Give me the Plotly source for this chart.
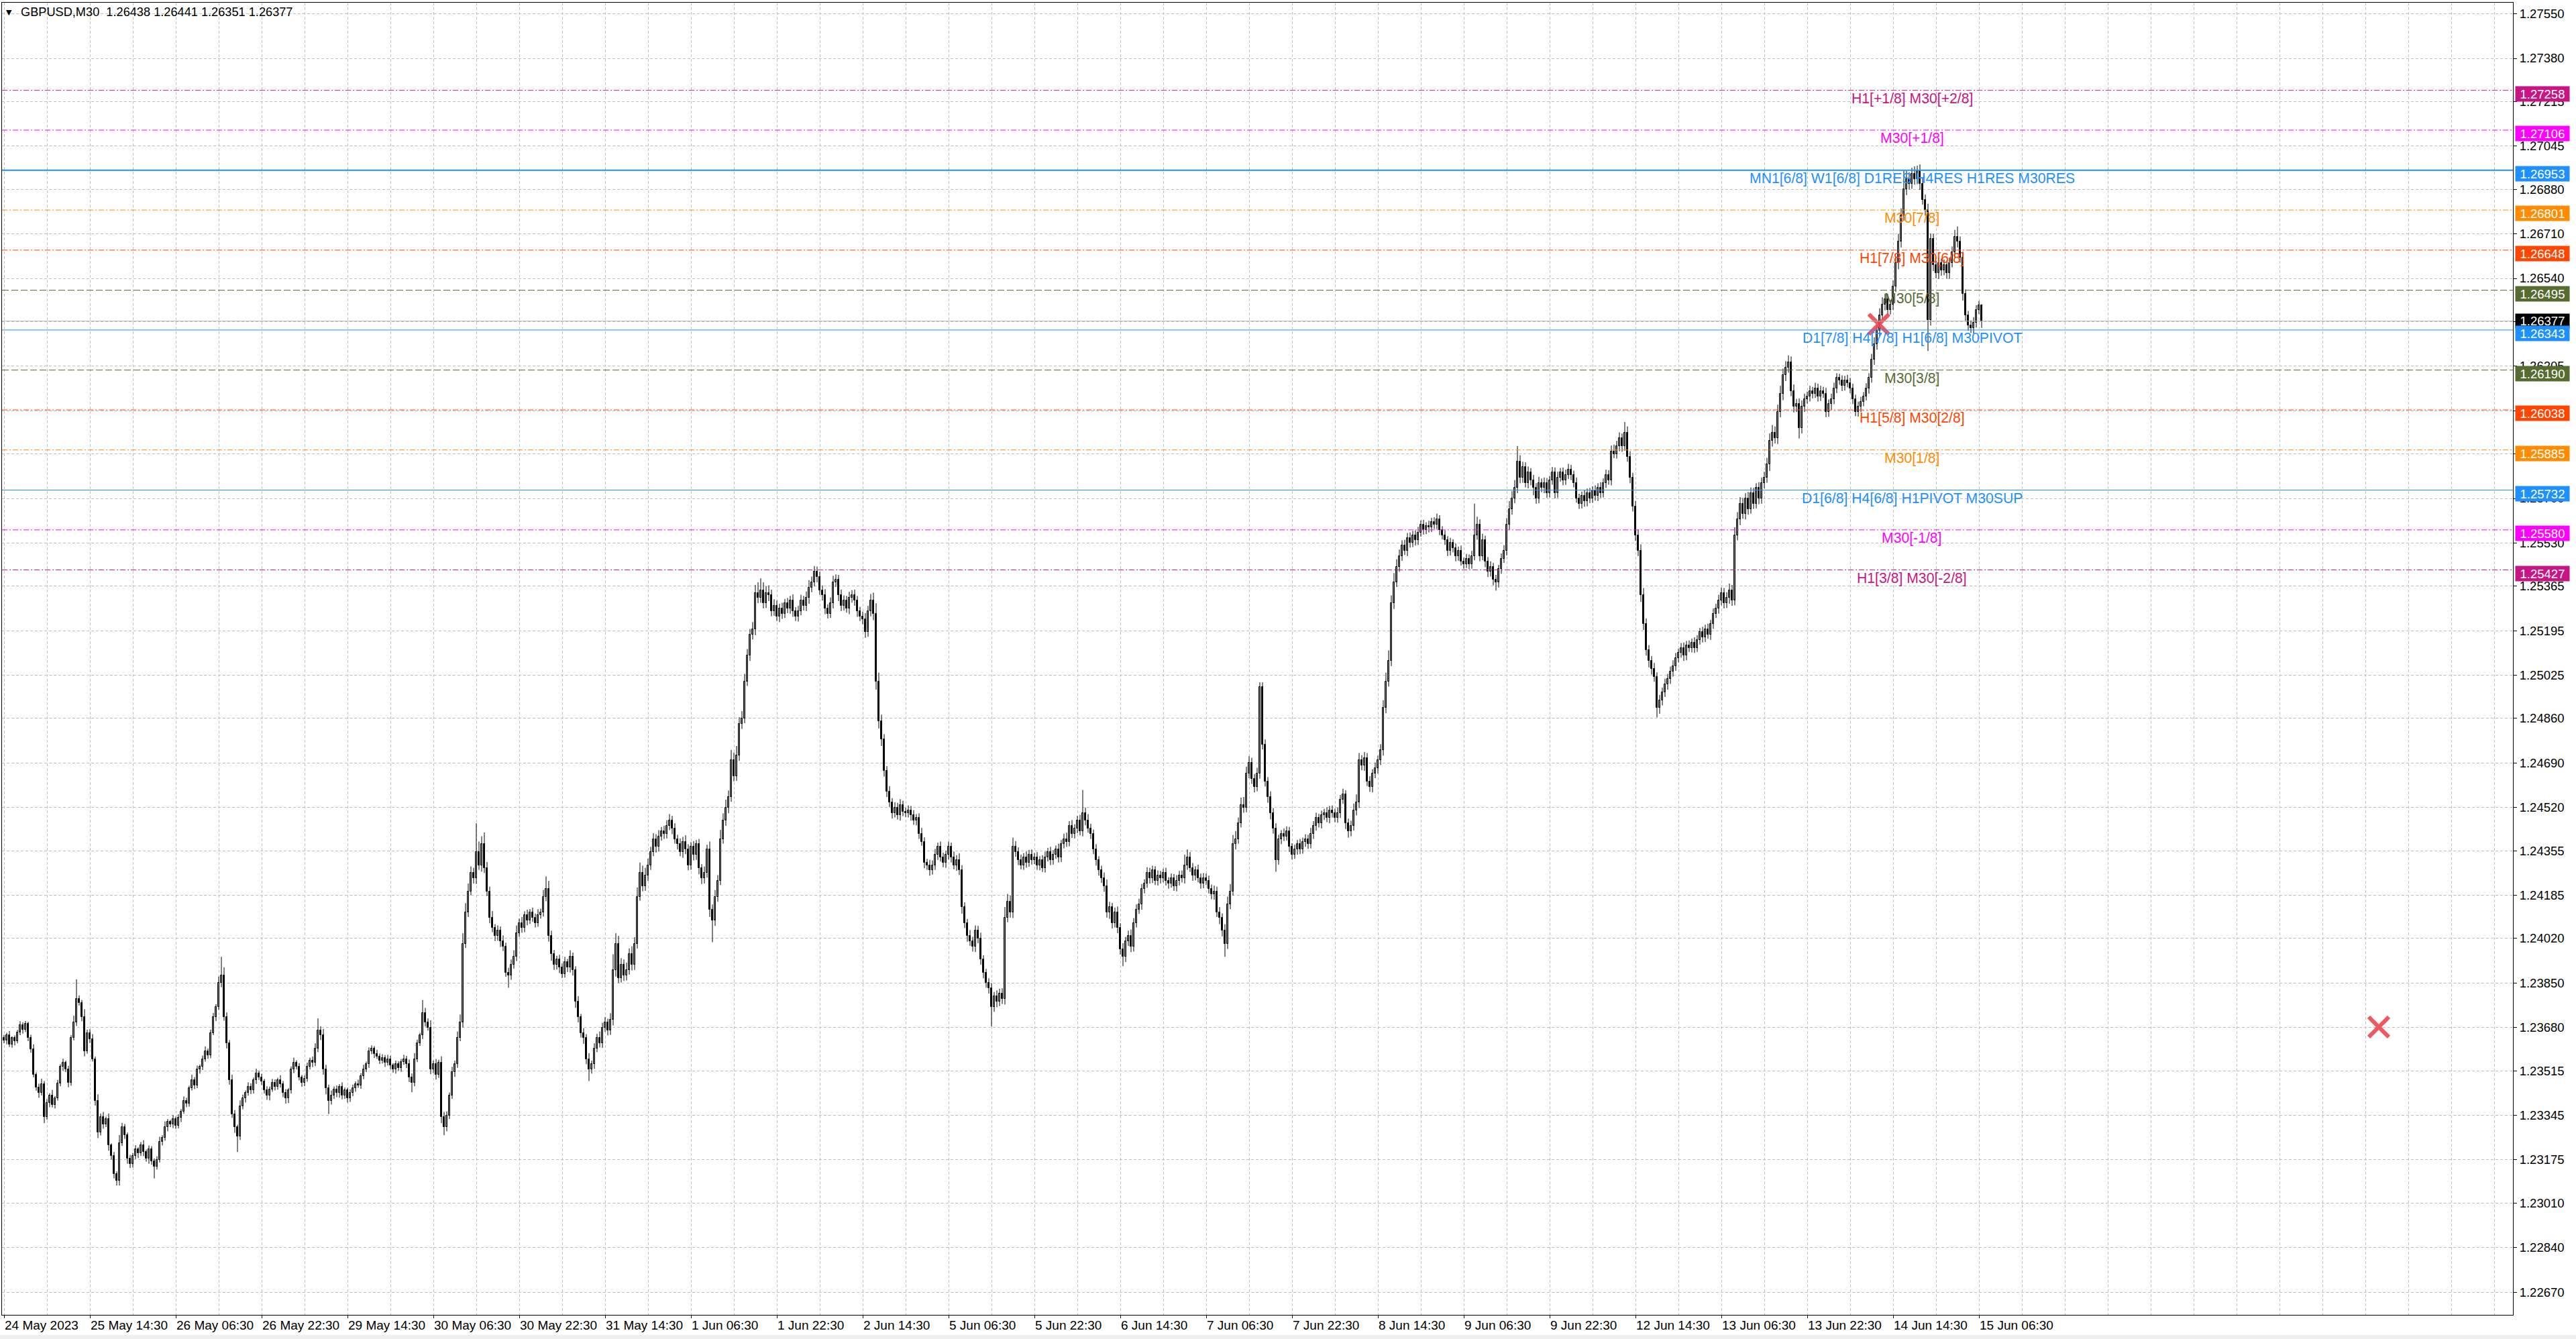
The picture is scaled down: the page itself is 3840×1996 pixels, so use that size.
import plotly.graph_objects as go

# ---------------- data (prices in points, 1 point = 0.00001) ----------------
first_open_pts = 123640
close_pts = [
    123630,123652,123615,123640,123628,123662,123690,123672,123695,123640,123598,123500,123452,123430,123465,123340,
    123392,123420,123385,123410,123468,123530,123545,123520,123470,123640,123700,123790,123775,123720,123590,123660,
    123635,123560,123400,123280,123340,123310,123330,123230,123190,123120,123095,123240,123300,123270,123180,123160,
    123190,123215,123200,123230,123205,123180,123215,123170,123150,123175,123245,123260,123300,123320,123310,123330,
    123305,123335,123360,123400,123390,123450,123480,123460,123520,123530,123560,123590,123575,123660,123720,123760,
    123850,123880,123720,123620,123480,123350,123300,123265,123380,123410,123430,123455,123440,123480,123505,123490,
    123475,123440,123420,123445,123470,123455,123480,123465,123430,123410,123440,123520,123545,123530,123490,123470,
    123485,123530,123555,123545,123600,123670,123650,123520,123450,123400,123420,123445,123430,123455,123420,123440,
    123410,123430,123450,123465,123460,123495,123520,123540,123590,123600,123580,123570,123555,123565,123545,123560,
    123535,123520,123540,123525,123550,123560,123540,123490,123470,123560,123620,123650,123735,123700,123680,123520,
    123540,123500,123545,123340,123300,123345,123420,123510,123540,123640,123700,124000,124120,124200,124270,124250,
    124350,124300,124380,124290,124200,124100,124060,124030,124050,124010,123990,123890,123880,123920,123950,124040,
    124080,124060,124110,124090,124120,124100,124080,124110,124120,124180,124210,124030,123960,123920,123940,123910,
    123885,123930,123910,123950,123900,123780,123720,123660,123640,123560,123520,123540,123600,123640,123620,123680,
    123700,123670,123710,123900,124000,123870,123920,123880,123900,123960,123920,124000,124180,124270,124220,124260,
    124300,124350,124400,124370,124410,124430,124420,124450,124470,124440,124400,124380,124350,124390,124360,124300,
    124370,124340,124380,124290,124250,124270,124360,124130,124090,124180,124240,124400,124470,124520,124560,124700,
    124640,124720,124840,124860,125000,125100,125180,125200,125340,125320,125350,125300,125340,125330,125270,125290,
    125250,125280,125260,125300,125280,125310,125270,125250,125270,125310,125290,125320,125360,125380,125420,125400,
    125350,125330,125280,125260,125300,125380,125390,125330,125290,125310,125280,125320,125330,125310,125270,125250,
    125240,125190,125270,125310,125260,125000,124850,124780,124660,124580,124540,124500,124520,124490,124530,124505,
    124500,124510,124490,124470,124480,124420,124390,124310,124300,124280,124300,124340,124370,124330,124310,124340,
    124370,124330,124300,124320,124280,124140,124080,124030,124010,123990,124050,124020,123940,123890,123850,123830,
    123760,123800,123780,123810,123790,124100,124160,124120,124370,124350,124320,124300,124330,124310,124340,124320,
    124330,124300,124320,124290,124330,124350,124320,124340,124360,124330,124380,124400,124390,124450,124420,124440,
    124470,124430,124500,124470,124440,124420,124360,124320,124280,124250,124220,124120,124140,124080,124120,124060,
    123980,123950,124010,124030,123990,124080,124130,124150,124210,124230,124270,124250,124280,124240,124260,124250,
    124270,124240,124230,124250,124220,124240,124260,124250,124300,124330,124290,124260,124280,124250,124230,124250,
    124240,124210,124190,124200,124120,124100,124050,124000,124150,124200,124380,124400,124460,124530,124520,124650,
    124690,124630,124600,124650,124980,124760,124620,124560,124500,124440,124320,124400,124420,124410,124430,124370,
    124340,124360,124380,124360,124390,124400,124380,124420,124450,124480,124460,124490,124500,124480,124510,124500,
    124480,124500,124550,124570,124460,124430,124450,124510,124540,124700,124680,124710,124620,124600,124650,124670,
    124700,124740,124900,125000,125080,125300,125380,125440,125480,125520,125500,125550,125530,125560,125540,125570,
    125600,125580,125595,125590,125610,125600,125620,125580,125560,125540,125500,125530,125510,125480,125500,125460,
    125450,125470,125450,125480,125560,125600,125480,125540,125460,125420,125440,125390,125380,125430,125470,125500,
    125600,125660,125700,125740,125840,125780,125820,125760,125800,125770,125740,125700,125760,125740,125760,125720,
    125770,125800,125720,125780,125800,125770,125790,125810,125790,125760,125700,125680,125710,125690,125720,125700,
    125730,125710,125740,125720,125760,125790,125770,125880,125870,125900,125930,125900,125950,125860,125780,125670,
    125560,125500,125330,125220,125120,125080,125050,125020,124900,124930,124960,124990,125010,125040,125060,125090,
    125110,125130,125100,125140,125130,125150,125130,125160,125190,125170,125200,125180,125220,125260,125280,125310,
    125340,125300,125320,125350,125310,125560,125620,125680,125640,125700,125660,125720,125680,125740,125700,125760,
    125780,125830,125920,125950,125930,126030,126100,126170,126200,126220,126110,126050,126060,125970,126050,126080,
    126090,126110,126100,126120,126090,126110,126100,126030,126060,126080,126120,126160,126150,126130,126150,126140,
    126120,126080,126030,126050,126070,126090,126120,126160,126230,126290,126340,126400,126440,126460,126420,126440,
    126510,126600,126680,126780,126880,126920,126900,126940,126920,126950,126900,126840,126800,126380,126690,126590,
    126560,126600,126570,126590,126560,126600,126640,126700,126680,126620,126480,126400,126360,126350,126370,126420,126438,126377,
]
up_wick_pts = [
    12,8,15,6,10,9,14,10,10,7,12,18,9,14,20,11,
    15,9,22,8,12,10,16,9,14,11,25,74,13,10,30,12,
    14,20,9,25,12,18,10,22,8,15,11,30,16,12,9,14,
    11,16,8,13,20,9,15,12,10,14,18,9,22,11,8,16,
    10,14,9,17,12,8,20,11,15,9,13,18,10,12,16,9,
    25,70,30,18,12,20,15,9,22,14,10,16,12,9,18,11,
    13,9,16,10,14,12,8,18,11,15,9,12,20,10,14,9,
    12,16,10,14,20,45,15,25,18,12,20,10,14,9,16,11,
    10,14,12,9,16,11,18,10,14,12,9,15,11,13,10,16,
    12,9,14,11,10,16,12,18,15,22,14,10,50,20,15,28,
    14,20,12,25,18,15,12,20,14,25,30,40,35,30,25,20,
    110,40,30,45,22,18,25,15,20,16,22,14,18,20,25,30,
    16,22,14,20,12,18,15,22,14,25,47,30,20,16,14,18,
    15,20,12,25,16,14,20,12,18,15,22,14,20,16,25,18,
    20,14,25,60,40,30,25,20,28,22,30,25,35,40,28,30,
    25,20,22,18,24,16,20,22,25,18,20,16,22,18,24,20,
    18,22,16,20,14,25,18,30,20,25,22,35,28,30,25,40,
    30,35,25,28,30,25,22,28,30,40,45,30,25,28,22,25,
    20,18,22,16,20,18,24,15,20,22,18,25,28,22,22,20,
    20,18,24,16,22,25,20,18,22,20,18,24,20,22,18,16,
    18,22,20,25,30,40,35,25,20,18,22,16,20,18,22,16,
    14,18,16,20,15,18,22,16,14,20,18,22,16,20,18,15,
    20,16,22,18,25,20,18,15,22,16,20,18,22,16,14,18,
    20,16,22,18,20,40,30,25,35,22,18,20,16,22,18,20,
    16,20,14,18,22,16,20,18,15,22,16,20,24,18,22,16,
    18,22,87,20,25,18,16,20,14,18,22,25,20,16,18,22,
    18,22,16,20,24,18,20,22,18,16,22,20,18,16,20,18,
    16,20,14,18,16,22,18,20,40,30,20,18,16,22,18,20,
    18,20,16,22,18,20,16,25,30,28,35,30,22,28,30,26,
    26,20,18,22,18,18,20,16,22,18,20,16,14,20,18,16,
    14,18,16,20,15,18,16,22,18,20,16,18,15,20,16,18,
    16,20,18,22,16,18,20,25,30,28,20,22,18,20,16,22,
    18,22,30,35,40,30,35,28,25,20,22,18,20,16,18,22,
    16,18,14,20,16,18,22,16,14,18,16,20,14,18,16,20,
    14,18,16,20,120,30,20,25,18,16,20,14,18,16,20,22,
    25,30,28,30,60,25,20,18,22,16,20,18,22,16,20,18,
    16,20,18,22,16,18,20,22,18,16,20,18,16,22,18,20,
    16,20,18,22,16,20,18,22,25,20,22,18,42,25,20,18,
    20,22,25,28,22,20,18,22,16,20,18,22,20,18,22,20,
    16,18,20,16,18,15,20,18,16,20,18,22,16,20,18,22,
    20,18,22,25,20,30,28,25,22,20,25,22,20,18,22,20,
    22,25,28,30,25,28,30,26,24,26,22,25,20,22,24,20,
    18,20,16,22,18,20,16,22,18,20,22,18,16,20,18,22,
    20,18,16,20,18,16,20,18,22,25,24,26,28,22,20,18,
    22,25,30,28,71,30,25,22,28,20,25,22,20,25,22,20,
    18,20,16,22,18,20,22,25,38,20,22,18,16,20,22,18,16,3,
]
down_wick_pts = [
    10,14,9,12,16,8,11,15,9,12,14,10,13,18,9,25,
    12,16,10,14,9,12,15,10,18,12,9,14,11,16,20,10,
    14,10,18,22,12,16,10,20,14,16,18,18,12,15,20,16,
    14,12,18,10,16,12,20,14,46,12,10,15,12,16,10,14,
    12,10,16,9,14,12,10,15,11,16,12,10,14,12,9,15,
    12,16,14,20,18,15,22,60,14,12,16,10,14,12,15,10,
    14,12,16,18,10,15,12,14,16,20,18,12,14,10,12,16,
    14,12,10,16,12,14,18,20,25,50,14,12,16,18,14,12,
    16,14,12,15,10,14,12,10,14,12,16,10,14,12,15,10,
    14,12,16,10,14,12,15,18,37,14,12,10,14,16,12,18,
    14,18,12,25,31,16,14,12,18,14,12,20,16,18,15,20,
    22,18,25,20,18,22,16,20,18,22,18,16,48,18,15,16,
    14,18,16,20,14,16,18,15,14,16,18,22,25,20,18,22,
    16,14,18,20,22,25,20,18,22,20,44,16,18,14,16,18,
    16,20,18,22,25,20,18,22,20,18,22,20,18,16,20,18,
    20,18,16,22,18,16,20,18,16,22,18,20,16,22,18,20,
    18,22,20,25,22,20,18,28,84,22,20,16,18,20,22,18,
    20,18,22,20,18,16,20,18,22,20,18,20,18,22,20,18,
    18,22,20,16,18,20,22,18,20,16,18,20,22,18,16,20,
    18,20,22,18,16,20,18,22,20,18,16,22,18,20,22,18,
    20,22,18,20,25,30,28,25,22,20,18,22,18,16,20,18,
    16,18,20,16,18,20,16,22,18,20,16,18,20,16,18,20,
    18,20,16,22,18,25,20,22,18,20,22,18,20,22,18,20,
    76,20,22,18,20,22,18,20,22,18,20,16,18,20,16,18,
    16,18,20,16,18,16,20,18,16,20,18,16,20,18,16,18,
    18,16,20,18,16,20,18,22,20,18,22,20,25,22,18,20,
    22,36,20,18,22,20,18,16,20,18,16,20,18,16,18,20,
    16,18,20,16,18,20,18,16,20,18,16,20,18,16,20,18,
    16,18,20,22,18,25,22,50,20,18,16,20,18,16,20,18,
    18,20,22,18,20,18,20,22,25,20,45,18,20,18,16,20,
    18,16,20,18,16,20,18,16,20,18,16,20,18,16,20,18,
    16,18,20,16,22,25,20,18,20,22,18,20,18,20,22,18,
    20,18,22,20,18,20,22,18,20,18,16,20,18,16,20,18,
    16,18,16,20,18,16,18,20,16,18,20,18,16,20,18,16,
    18,16,20,18,16,18,20,16,22,20,18,22,32,20,18,16,
    18,20,22,18,20,22,20,18,22,20,28,20,18,16,20,18,
    16,18,20,18,16,20,18,16,20,18,16,20,18,22,20,18,
    16,18,20,18,16,20,18,20,16,18,20,22,18,20,22,20,
    22,20,25,22,20,25,22,20,36,22,20,18,20,18,20,18,
    16,18,20,18,16,18,20,16,18,20,18,16,20,18,16,20,
    18,20,18,22,20,18,20,22,18,20,22,18,20,18,22,20,
    22,20,25,22,20,22,20,25,22,20,20,22,20,41,22,20,
    18,20,18,16,20,18,16,20,18,22,20,18,16,20,18,16,
    18,20,16,18,20,18,16,20,18,20,22,20,18,22,20,18,
    20,22,25,22,20,22,20,18,22,20,22,18,20,117,20,22,
    20,22,20,18,20,22,18,20,22,20,25,22,20,18,20,18,16,26,
]

time_labels = ["24 May 2023", "25 May 14:30", "26 May 06:30", "26 May 22:30", "29 May 14:30",
               "30 May 06:30", "30 May 22:30", "31 May 14:30", "1 Jun 06:30", "1 Jun 22:30",
               "2 Jun 14:30", "5 Jun 06:30", "5 Jun 22:30", "6 Jun 14:30", "7 Jun 06:30",
               "7 Jun 22:30", "8 Jun 14:30", "9 Jun 06:30", "9 Jun 22:30", "12 Jun 14:30",
               "13 Jun 06:30", "13 Jun 22:30", "14 Jun 14:30", "15 Jun 06:30"]
bars_per_label = 32
bars_per_grid = 16

price_ticks = [1.27550, 1.27380, 1.27215, 1.27045, 1.26880, 1.26710, 1.26540, 1.26375, 1.26205,
               1.26035, 1.25870, 1.25700, 1.25530, 1.25365, 1.25195, 1.25025, 1.24860, 1.24690,
               1.24520, 1.24355, 1.24185, 1.24020, 1.23850, 1.23680, 1.23515, 1.23345, 1.23175,
               1.23010, 1.22840, 1.22670]

level_prices = [1.27258, 1.27106, 1.26953, 1.26801, 1.26648, 1.26495, 1.26343, 1.26190,
                1.26038, 1.25885, 1.25732, 1.25580, 1.25427]
level_names = ["H1[+1/8] M30[+2/8]", "M30[+1/8]", "MN1[6/8] W1[6/8] D1RES H4RES H1RES M30RES",
               "M30[7/8]", "H1[7/8] M30[6/8]", "M30[5/8]", "D1[7/8] H4[7/8] H1[6/8] M30PIVOT",
               "M30[3/8]", "H1[5/8] M30[2/8]", "M30[1/8]", "D1[6/8] H4[6/8] H1PIVOT M30SUP",
               "M30[-1/8]", "H1[3/8] M30[-2/8]"]
level_colors = ["#C71585", "#FF00FF", "#1E90FF", "#FF8C00", "#FF4500", "#556B2F", "#1E90FF",
                "#556B2F", "#FF4500", "#FF8C00", "#1E90FF", "#FF00FF", "#C71585"]
level_kind = ["dd", "dd", "solid2", "dd", "dd", "dash", "solid", "dash", "dd", "dd", "solid", "dd", "dd"]
label_bar = 711

cross_bars = [698.7, 885]
cross_prices = [1.26365, 1.23682]

# ---------------- derived OHLC ----------------
n = len(close_pts)
P = 1e-5
open_pts = [first_open_pts] + close_pts[:-1]
opens = [v * P for v in open_pts]
closes = [v * P for v in close_pts]
highs = [(max(o, c) + u) * P for o, c, u in zip(open_pts, close_pts, up_wick_pts)]
lows = [(min(o, c) - d) * P for o, c, d in zip(open_pts, close_pts, down_wick_pts)]
idx = list(range(n))

fig = go.Figure()

# wicks
wx, wy = [], []
for i in idx:
    wx += [i, i, None]
    wy += [lows[i], highs[i], None]
fig.add_trace(go.Scatter(x=wx, y=wy, mode="lines", line=dict(color="black", width=1),
                         hoverinfo="skip", showlegend=False))

# bodies
base = [min(o, c) for o, c in zip(opens, closes)]
height = [max(abs(c - o), 0.4 * P) for o, c in zip(opens, closes)]
colors = ["white" if c >= o else "black" for o, c in zip(opens, closes)]
fig.add_trace(go.Bar(x=idx, y=height, base=base, width=0.55,
                     marker=dict(color=colors, line=dict(color="black", width=1)),
                     hoverinfo="skip", showlegend=False))

# red crosses
fig.add_trace(go.Scatter(x=cross_bars, y=cross_prices, mode="markers",
                         marker=dict(symbol="x-thin", size=30, color="rgba(236,70,80,0.9)",
                                     line=dict(color="rgba(236,70,80,0.9)", width=6)),
                         hoverinfo="skip", showlegend=False))

shapes = []
annotations = []
dash_map = {"dd": "8px,3px,2px,3px", "dash": "10px,4px", "solid": "solid", "solid2": "solid"}
axis_font = dict(family="Liberation Sans", size=18.5, color="black")

bid = closes[-1]
# bid line
shapes.append(dict(type="line", xref="paper", x0=0, x1=1, yref="y", y0=bid, y1=bid,
                   line=dict(color="#B4B4B4", width=1), layer="above"))
annotations.append(dict(xref="paper", x=1, xshift=3, xanchor="left", yref="y", y=bid,
                        yanchor="middle", text=f"{bid:.5f}", showarrow=False, bgcolor="black",
                        width=80, height=21, borderpad=0, align="center",
                        font=dict(family="Liberation Sans", size=18.5, color="white")))

for p, name, col, kind in zip(level_prices, level_names, level_colors, level_kind):
    shapes.append(dict(type="line", xref="paper", x0=0, x1=1, yref="y", y0=p, y1=p,
                       line=dict(color=col, width=2 if kind == "solid2" else 1, dash=dash_map[kind]),
                       layer="above"))
    annotations.append(dict(xref="x", x=label_bar, xanchor="center", yref="y", y=p,
                            yanchor="middle", yshift=-12, text=name, showarrow=False,
                            font=dict(family="Liberation Sans", size=21.2, color=col)))
    annotations.append(dict(xref="paper", x=1, xshift=3, xanchor="left", yref="y", y=p,
                            yanchor="middle", yshift=-5, text=f"{p:.5f}", showarrow=False,
                            bgcolor=col, width=80, height=22, borderpad=0, align="center",
                            font=dict(family="Liberation Sans", size=18.5, color="white")))

# time labels (left aligned at their tick)
label_pos = [k * bars_per_label for k in range(len(time_labels))]
for xp, t in zip(label_pos, time_labels):
    annotations.append(dict(xref="x", x=xp, xanchor="left", yref="paper", y=0, yanchor="top",
                            yshift=-4, text=t, showarrow=False, borderpad=0,
                            font=dict(family="Liberation Sans", size=19, color="black")))

# title
o_l, h_l, l_l, c_l = opens[-1], highs[-1], lows[-1], closes[-1]
annotations.append(dict(xref="paper", x=0, xshift=4, xanchor="left", yref="paper", y=1,
                        yshift=-14, yanchor="middle", text="▼", showarrow=False,
                        font=dict(family="DejaVu Sans", size=11, color="black")))
annotations.append(dict(xref="paper", x=0, xshift=26, xanchor="left", yref="paper", y=1,
                        yshift=-14, yanchor="middle",
                        text=f"GBPUSD,M30  {o_l:.5f} {h_l:.5f} {l_l:.5f} {c_l:.5f}",
                        showarrow=False,
                        font=dict(family="Liberation Sans", size=18.2, color="black")))

# window bottom strip
shapes.append(dict(type="rect", xref="paper", x0=-0.01, x1=1.03, yref="paper", y0=-0.0190,
                   y1=-0.0152, fillcolor="#F0F0F0", line=dict(width=0), layer="below"))

n_grid = int(935 // bars_per_grid) + 1
minor_grid = [k * bars_per_grid for k in range(n_grid) if (k * bars_per_grid) not in label_pos]

grid_style = dict(gridcolor="#C0C0C0", gridwidth=1, griddash="4px,3px")

fig.update_layout(
    width=3840, height=1996,
    margin=dict(l=3, r=94, t=4, b=36),
    paper_bgcolor="white", plot_bgcolor="white",
    showlegend=False, bargap=0, hovermode=False,
    shapes=shapes, annotations=annotations,
    xaxis=dict(range=[-0.75, 935], tickmode="array", tickvals=label_pos, showticklabels=False,
               ticks="outside", ticklen=4, tickcolor="black", showline=True, linecolor="black",
               linewidth=1, mirror=True, zeroline=False, showgrid=True, **grid_style,
               minor=dict(tickmode="array", tickvals=minor_grid, showgrid=True, ticks="",
                          **grid_style)),
    yaxis=dict(range=[1.225832, 1.275926], side="right", tickmode="array", tickvals=price_ticks,
               ticktext=[f"{v:.5f}" for v in price_ticks], ticks="outside", ticklen=5,
               tickcolor="black", showline=True, linecolor="black", linewidth=1, mirror=True,
               zeroline=False, showgrid=True, **grid_style, tickfont=axis_font),
)

fig.write_html("out.html", config={"displayModeBar": False},
               post_script="document.body.style.margin='0px';document.body.style.overflow='hidden';")
